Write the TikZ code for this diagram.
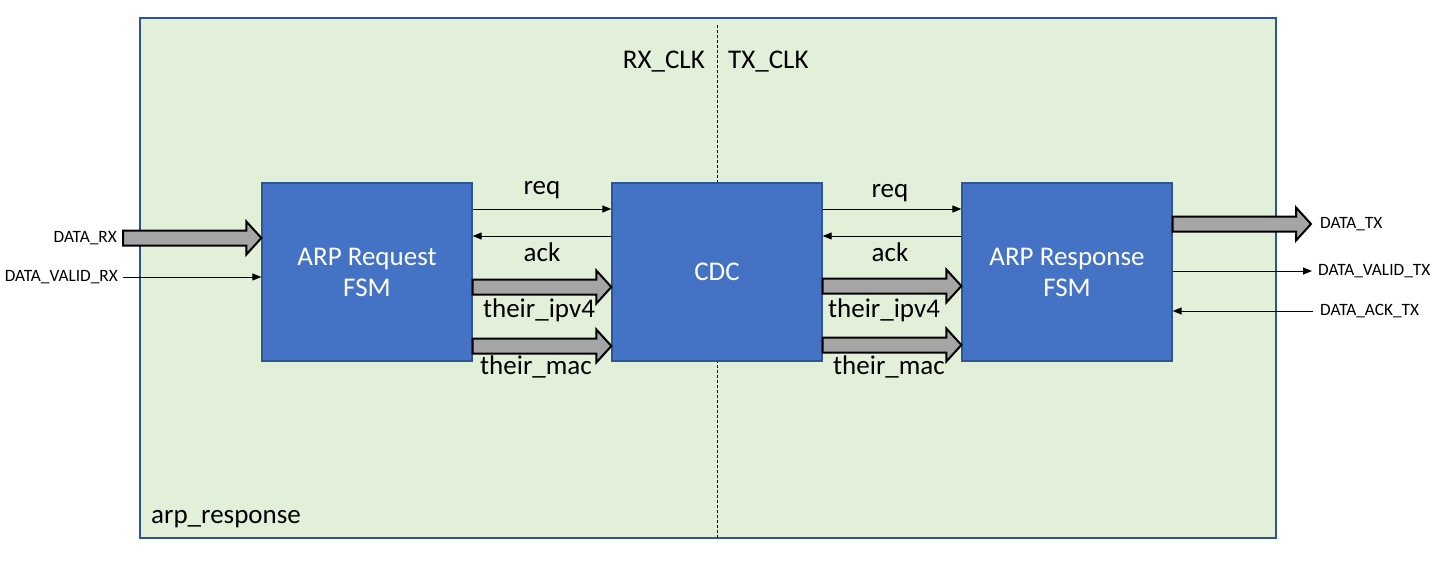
\documentclass[tikz,border=0pt]{standalone}
\usepackage{fontspec}
\setmainfont{Carlito}
\usetikzlibrary{arrows.meta,calc}
\definecolor{framefill}{HTML}{E2F0D9}
\definecolor{frameline}{HTML}{2F5597}
\definecolor{blkfill}{HTML}{4472C4}
\definecolor{blkline}{HTML}{2F5597}
\definecolor{arrgray}{HTML}{A5A5A5}
\newcommand\fatarrow[3]{\draw[fat] let \p1=(#1), \p2=(#2), \p3=(0,#3) in
  (\x1,\y3+7.5pt) -- (\x2-15pt,\y3+7.5pt) -- (\x2-15pt,\y3+16.5pt) -- (\x2,\y3)
  -- (\x2-15pt,\y3-16.5pt) -- (\x2-15pt,\y3-7.5pt) -- (\x1,\y3-7.5pt) -- cycle;}
\begin{document}
\begin{tikzpicture}[x=1pt,y=-1pt,
  blk/.style={draw=blkline, fill=blkfill, line width=1.3pt, minimum width=210pt,
    minimum height=178pt, inner sep=0pt, text=white,
    font=\fontsize{27}{31}\selectfont, align=center},
  lbl/.style={font=\fontsize{27}{31}\selectfont, inner sep=0pt},
  sml/.style={font=\fontsize{17.3}{20}\selectfont, inner sep=0pt},
  thinarr/.style={line width=0.9pt, -{Triangle[length=9pt,width=7pt]}},
  fat/.style={draw=black, line width=2pt, fill=arrgray, line join=miter},
  clkline/.style={line width=0.9pt, dash pattern=on 3pt off 2pt}]
\useasboundingbox (0,0) rectangle (1446,565);
\draw[draw=frameline, fill=framefill, line width=2pt] (140,18) rectangle (1276,538);
\draw[clkline] (717,25) -- (717,538);
\node[lbl, anchor=east] (rxclk) at (705,62) {RX\_CLK};
\node[lbl, anchor=west] (txclk) at (728,62) {TX\_CLK};
\node[lbl, anchor=west] (name) at (151,519) {arp\_response};

\node[blk] (b1) at (367,272) {ARP Request\\FSM};
\node[blk] (cdc) at (717,272) {CDC};
\node[blk] (b3) at (1067,272) {ARP Response\\FSM};

% y levels
\coordinate (yreq) at (0,209);
\coordinate (yack) at (0,236);
\coordinate (yvrx) at (0,277);
\coordinate (yvtx) at (0,271);
\coordinate (yatx) at (0,311);

% left inputs
\coordinate (drx) at (123,238);
\coordinate (dvrx) at (123,277);
\fatarrow{drx}{b1.west}{238}
\draw[thinarr] (dvrx) -- (b1.west |- yvrx);
\node[sml, anchor=east] (ldrx) at (117,238) {DATA\_RX};
\node[sml, anchor=east] (ldvrx) at (118,277) {DATA\_VALID\_RX};

% b1 <-> cdc
\draw[thinarr] (b1.east |- yreq) -- (cdc.west |- yreq);
\draw[thinarr] (cdc.west |- yack) -- (b1.east |- yack);
\fatarrow{b1.east}{cdc.west}{287}
\fatarrow{b1.east}{cdc.west}{346}
\node[lbl] (req1) at (542,190) {req};
\node[lbl] (ack1) at (542,252) {ack};
\node[lbl] (ip1) at (539,310) {their\_ipv4};
\node[lbl] (mac1) at (536,367) {their\_mac};

% cdc <-> b3
\draw[thinarr] (cdc.east |- yreq) -- (b3.west |- yreq);
\draw[thinarr] (b3.west |- yack) -- (cdc.east |- yack);
\fatarrow{cdc.east}{b3.west}{286}
\fatarrow{cdc.east}{b3.west}{345}
\node[lbl] (req2) at (890,193) {req};
\node[lbl] (ack2) at (890,252) {ack};
\node[lbl] (ip2) at (884,310) {their\_ipv4};
\node[lbl] (mac2) at (889,367) {their\_mac};

% right outputs
\coordinate (dtx) at (1311,224);
\coordinate (dvtx) at (1312,271);
\coordinate (datx) at (1313,311);
\fatarrow{b3.east}{dtx}{224}
\draw[thinarr] (b3.east |- yvtx) -- (dvtx);
\draw[thinarr] (datx) -- (b3.east |- yatx);
\node[sml, anchor=west] (ldtx) at (1320,224) {DATA\_TX};
\node[sml, anchor=west] (ldvtx) at (1318,271) {DATA\_VALID\_TX};
\node[sml, anchor=west] (ldatx) at (1320,311) {DATA\_ACK\_TX};
\end{tikzpicture}
\end{document}
